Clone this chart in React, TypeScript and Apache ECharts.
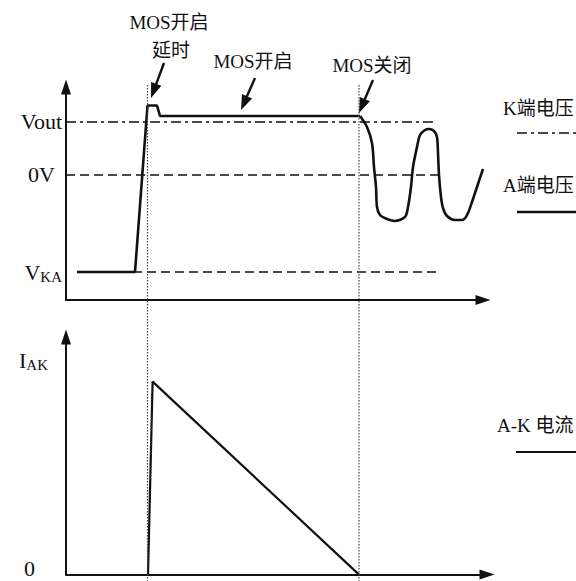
import React, { useEffect, useRef } from "react";
import * as echarts from "echarts";

const FONT = '"Liberation Serif", "Times New Roman", "Noto Sans CJK SC", serif';
const INK = "#111";

// ---- top panel: voltages (0V = 0, Vout = 1), time in arbitrary units ----
const levelVout = 1;
const level0V = 0;
const levelVKA = -1.83;
const vTickValues = [levelVKA, level0V, levelVout];
const vTickLabels = ["{v|V}{s|KA}", "{t0|0V}", "{t|Vout}"];

// A-terminal voltage: step part
const aVoltStep: [number, number][] = [
  [11, -1.83],
  [69, -1.83],
  [81.5, 1.311],
  [91, 1.311],
  [94, 1.113],
  [294, 1.113],
];
// A-terminal voltage: ringing after MOS turn-off
const aVoltRing: [number, number][] = [
  [294, 1.113],
  [301, 0.906],
  [306, 0.604],
  [308, 0.151],
  [310, -0.226],
  [311, -0.604],
  [314, -0.755],
  [321, -0.83],
  [329, -0.868],
  [339, -0.792],
  [342, -0.604],
  [345, -0.226],
  [347, 0.151],
  [351, 0.528],
  [354, 0.755],
  [359, 0.849],
  [363, 0.868],
  [368, 0.83],
  [371, 0.717],
  [372, 0.415],
  [373, 0],
  [375, -0.415],
  [377, -0.623],
  [381, -0.774],
  [389, -0.849],
  [396, -0.849],
  [401, -0.755],
  [406, -0.509],
  [411, -0.226],
  [417, 0.113],
];
// K-terminal voltage (Vout) and reference levels
const kVoltLine: [number, number][] = [
  [0, levelVout],
  [369, levelVout],
];
const zeroLine: [number, number][] = [
  [0, level0V],
  [375, level0V],
];
const vkaLine: [number, number][] = [
  [11, levelVKA],
  [375, levelVKA],
];

// ---- bottom panel: A-K current ----
const iakCurve: [number, number][] = [
  [82, 0],
  [86.6, 1],
  [293, 0],
];
const iTickValues = [0, 1.107];
const iTickLabels = ["{z|0}", "{i|I}{s|AK}"];

// ---- event times (MOS on, MOS off) ----
const eventTimes = [81.5, 293];

const axisLine = {
  show: true,
  onZero: false,
  symbol: ["none", "triangle"],
  symbolSize: [10, 15],
  lineStyle: { color: INK, width: 2 },
};

function arrow(x1: number, y1: number, x2: number, y2: number) {
  const dx = x2 - x1;
  const dy = y2 - y1;
  const L = Math.hypot(dx, dy);
  const ux = dx / L;
  const uy = dy / L;
  const hl = 15;
  const hw = 5.5;
  const bx = x2 - ux * hl;
  const by = y2 - uy * hl;
  const px = -uy;
  const py = ux;
  return [
    {
      type: "line",
      shape: { x1, y1, x2: bx + ux * 2, y2: by + uy * 2 },
      style: { stroke: INK, lineWidth: 2.4 },
    },
    {
      type: "polygon",
      shape: {
        points: [
          [x2, y2],
          [bx + px * hw, by + py * hw],
          [bx - px * hw, by - py * hw],
        ],
      },
      style: { fill: INK },
    },
  ];
}

function txt(text: string, x: number, y: number, align = "left", size = 19) {
  return {
    type: "text",
    style: {
      text,
      x,
      y,
      align,
      verticalAlign: "middle",
      fontSize: size,
      fontFamily: FONT,
      fill: INK,
    },
  };
}

export default function App() {
  const ref = useRef<HTMLDivElement>(null);
  useEffect(() => {
    if (!ref.current) return;
    const chart = echarts.init(ref.current, null, { renderer: "svg" });
    const labelIndex = (vals: number[], v: number) => {
      let best = 0;
      vals.forEach((c, i) => {
        if (Math.abs(c - v) < Math.abs(vals[best] - v)) best = i;
      });
      return best;
    };
    const subRich = {
      v: { fontSize: 22, fontFamily: FONT, color: INK, lineHeight: 24 },
      i: { fontSize: 22, fontFamily: FONT, color: INK, lineHeight: 24 },
      s: {
        fontSize: 15,
        fontFamily: FONT,
        color: INK,
        lineHeight: 15,
        verticalAlign: "bottom",
        padding: [10, 0, 0, 0],
      },
      t: { fontSize: 22, fontFamily: FONT, color: INK },
      t0: { fontSize: 22, fontFamily: FONT, color: INK, padding: [0, 7, 0, 0] },
      z: { fontSize: 22, fontFamily: FONT, color: INK, padding: [0, 13, 12, 0] },
    };
    const lineBase = {
      type: "line",
      symbol: "none",
      silent: true,
      clip: false,
    };
    chart.setOption({
      animation: false,
      backgroundColor: "#fff",
      textStyle: { fontFamily: FONT },
      grid: [
        { left: 66, top: 87, width: 417, height: 213 },
        { left: 66, top: 337, width: 421, height: 237.6 },
        { left: 66, top: 0, width: 417, height: 581 },
      ],
      xAxis: [
        {
          gridIndex: 0,
          type: "value",
          min: 0,
          max: 417,
          axisLine,
          axisTick: { show: false },
          axisLabel: { show: false },
          splitLine: { show: false },
        },
        {
          gridIndex: 1,
          type: "value",
          min: 0,
          max: 421,
          axisLine,
          axisTick: { show: false },
          axisLabel: { show: false },
          splitLine: { show: false },
        },
        {
          gridIndex: 2,
          type: "value",
          min: 0,
          max: 417,
          show: false,
        },
      ],
      yAxis: [
        {
          gridIndex: 0,
          type: "value",
          min: -2.358,
          max: 1.66,
          axisLine,
          axisTick: { show: false },
          splitLine: { show: false },
          axisLabel: {
            customValues: vTickValues,
            margin: 4,
            formatter: (v: number) => vTickLabels[labelIndex(vTickValues, v)],
            rich: subRich,
          },
        },
        {
          gridIndex: 1,
          type: "value",
          min: 0,
          max: 1.231,
          axisLine,
          axisTick: { show: false },
          splitLine: { show: false },
          axisLabel: {
            customValues: iTickValues,
            margin: 18,
            formatter: (v: number) => iTickLabels[labelIndex(iTickValues, v)],
            rich: subRich,
          },
        },
        {
          gridIndex: 2,
          type: "value",
          min: 0,
          max: 581,
          inverse: true,
          show: false,
        },
      ],
      series: [
        {
          ...lineBase,
          name: "K端电压",
          xAxisIndex: 0,
          yAxisIndex: 0,
          data: kVoltLine,
          lineStyle: { color: INK, width: 1.4, type: [10, 4, 3, 4] },
        },
        {
          ...lineBase,
          name: "0V",
          xAxisIndex: 0,
          yAxisIndex: 0,
          data: zeroLine,
          lineStyle: { color: INK, width: 1.4, type: [9, 5] },
        },
        {
          ...lineBase,
          name: "VKA",
          xAxisIndex: 0,
          yAxisIndex: 0,
          data: vkaLine,
          lineStyle: { color: INK, width: 1.4, type: [9, 5] },
        },
        {
          ...lineBase,
          name: "A端电压",
          xAxisIndex: 0,
          yAxisIndex: 0,
          data: aVoltStep,
          lineStyle: { color: INK, width: 2.6 },
        },
        {
          ...lineBase,
          name: "A端电压振荡",
          xAxisIndex: 0,
          yAxisIndex: 0,
          data: aVoltRing,
          smooth: 0.3,
          lineStyle: { color: INK, width: 2.6 },
        },
        {
          ...lineBase,
          name: "A-K 电流",
          xAxisIndex: 1,
          yAxisIndex: 1,
          data: iakCurve,
          lineStyle: { color: INK, width: 2.2 },
        },
        ...eventTimes.map((t, k) => ({
          ...lineBase,
          name: "event" + k,
          xAxisIndex: 2,
          yAxisIndex: 2,
          data: [
            [t, 85],
            [t, 581],
          ],
          lineStyle: { color: "#444", width: 1.2, type: [1.5, 1.5] },
        })),
      ],
      graphic: [
        txt("MOS开启", 169, 22, "center"),
        txt("延时", 171, 50, "center"),
        txt("MOS开启", 253, 61, "center"),
        txt("MOS关闭", 372, 65, "center"),
        ...arrow(164, 63, 151, 98),
        ...arrow(255, 78, 241, 110),
        ...arrow(373, 80, 359, 113),
        txt("K端电压", 503, 108),
        {
          type: "line",
          shape: { x1: 517, y1: 133, x2: 576, y2: 133 },
          style: { stroke: INK, lineWidth: 1.4, lineDash: [10, 4, 3, 4] },
        },
        txt("A端电压", 503, 185),
        {
          type: "line",
          shape: { x1: 517, y1: 212, x2: 576, y2: 212 },
          style: { stroke: INK, lineWidth: 2.6 },
        },
        txt("A-K 电流", 497, 425),
        {
          type: "line",
          shape: { x1: 516, y1: 452, x2: 576, y2: 452 },
          style: { stroke: INK, lineWidth: 2.2 },
        },
      ],
    });
    return () => chart.dispose();
  }, []);
  return (
    <div
      ref={ref}
      style={{ position: "fixed", left: 0, top: 0, width: 576, height: 581 }}
    />
  );
}
